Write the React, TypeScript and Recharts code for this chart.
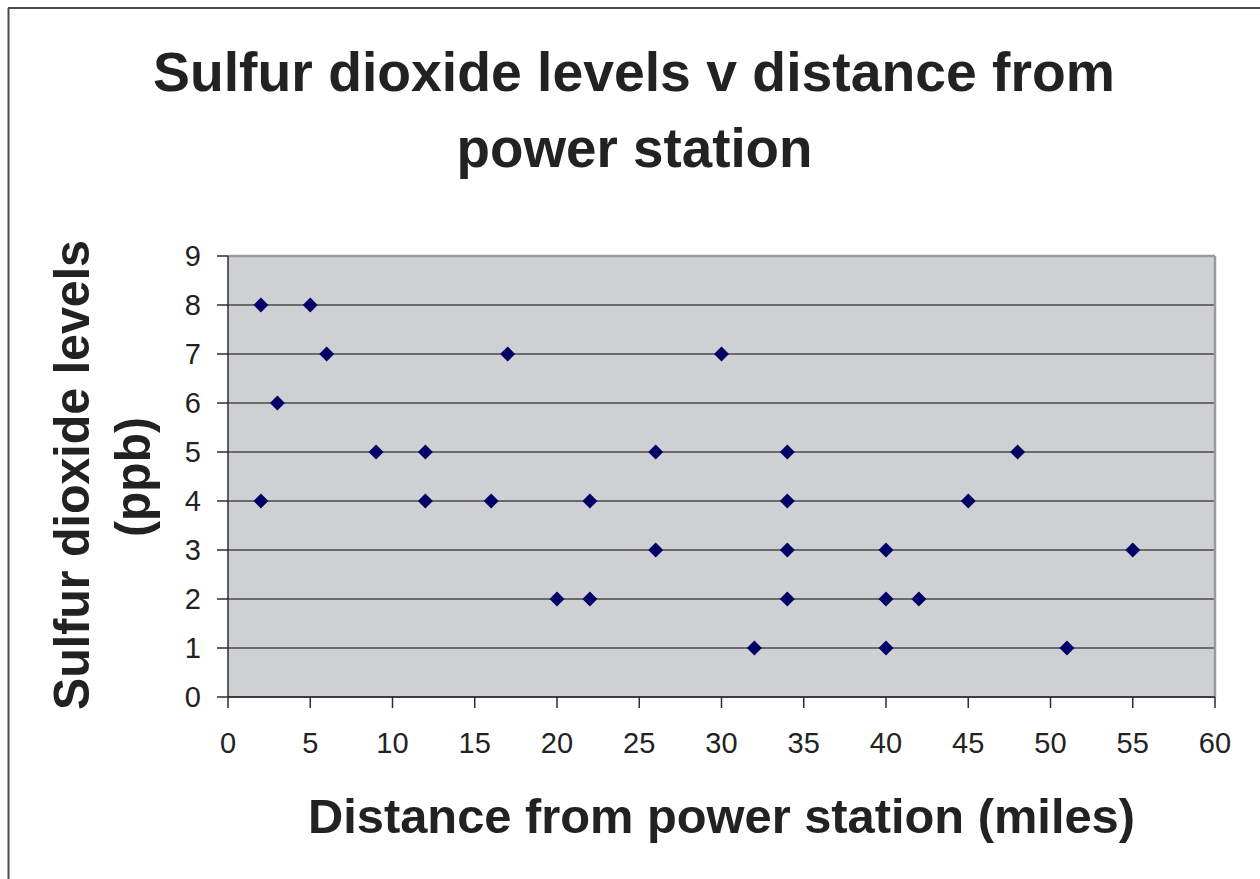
import React from 'react';
import { ScatterChart, Scatter, XAxis, YAxis, CartesianGrid, ReferenceLine } from 'recharts';

const distances = [2, 5, 6, 3, 2, 9, 12, 12, 16, 17, 20, 22, 22, 26, 26, 30, 32, 34, 34, 34, 34, 40, 40, 40, 42, 45, 48, 51, 55];
const levels = [8, 8, 7, 6, 4, 5, 5, 4, 4, 7, 2, 2, 4, 5, 3, 7, 1, 5, 4, 3, 2, 3, 2, 1, 2, 4, 5, 1, 3];
const xTicks = [0, 5, 10, 15, 20, 25, 30, 35, 40, 45, 50, 55, 60];
const yTicks = [0, 1, 2, 3, 4, 5, 6, 7, 8, 9];

const points = distances.map((d, i) => ({ x: d, y: levels[i] }));

const FONT = '"Liberation Sans", Arial, Helvetica, sans-serif';

// square-ish diamond like the Excel marker
const Diamond = (props: any) => {
  const { cx, cy } = props;
  const r = 7.5;
  return (
    <polygon
      points={`${cx},${cy - r} ${cx + r},${cy} ${cx},${cy + r} ${cx - r},${cy}`}
      fill="#000066"
    />
  );
};

export default function App() {
  const W = 1260;
  const H = 879;
  return (
    <div style={{ position: 'absolute', left: 0, top: 0, width: W, height: H, background: '#fff', overflow: 'hidden' }}>
      <div style={{ position: 'absolute', left: 0, top: 0 }}>
        <ScatterChart width={W} height={H} margin={{ top: 256, right: 45, left: 0, bottom: 0 }}>
          <CartesianGrid vertical={false} fill="#cfd0d4" fillOpacity={1} stroke="#4a4a4a" strokeWidth={1.5} />
          <XAxis
            type="number"
            dataKey="x"
            domain={[0, 60]}
            ticks={xTicks}
            interval={0}
            height={182}
            tickSize={11}
            tickMargin={24}
            axisLine={{ stroke: '#2e2e2e', strokeWidth: 1.5 }}
            tickLine={{ stroke: '#2e2e2e', strokeWidth: 1.5 }}
            tick={{ fill: '#222', fontSize: 29, fontFamily: FONT }}
          />
          <YAxis
            type="number"
            dataKey="y"
            domain={[0, 9]}
            ticks={yTicks}
            interval={0}
            width={228}
            tickSize={11}
            tickMargin={16}
            axisLine={{ stroke: '#2e2e2e', strokeWidth: 1.5 }}
            tickLine={{ stroke: '#2e2e2e', strokeWidth: 1.5 }}
            tick={{ fill: '#222', fontSize: 29, fontFamily: FONT }}
          />
          <ReferenceLine y={9} stroke="#9a9a9a" strokeWidth={2.5} />
          <ReferenceLine x={60} stroke="#9a9a9a" strokeWidth={2.5} />
          <Scatter data={points} shape={Diamond} isAnimationActive={false} />
        </ScatterChart>
      </div>
      <svg width={W} height={H} style={{ position: 'absolute', left: 0, top: 0, pointerEvents: 'none' }}>
        {/* outer chart frame */}
        <line x1={8} y1={8} x2={W} y2={8} stroke="#4a4a4a" strokeWidth={2} />
        <line x1={8.5} y1={8} x2={8.5} y2={H} stroke="#4a4a4a" strokeWidth={2} />
        <g fontFamily={FONT} fontWeight="bold" fill="#222">
          <text x={634} y={91} fontSize={56} textAnchor="middle" textLength={962} lengthAdjust="spacingAndGlyphs">
            Sulfur dioxide levels v distance from
          </text>
          <text x={634.5} y={167} fontSize={56} textAnchor="middle" textLength={356} lengthAdjust="spacingAndGlyphs">
            power station
          </text>
          <text x={721.5} y={833} fontSize={49} textAnchor="middle" textLength={827} lengthAdjust="spacingAndGlyphs">
            Distance from power station (miles)
          </text>
          <text
            transform="translate(89,475) rotate(-90)"
            fontSize={50}
            textAnchor="middle"
            textLength={470}
            lengthAdjust="spacingAndGlyphs"
          >
            Sulfur dioxide levels
          </text>
          <text
            transform="translate(150,477) rotate(-90)"
            fontSize={50}
            textAnchor="middle"
            textLength={120}
            lengthAdjust="spacingAndGlyphs"
          >
            (ppb)
          </text>
        </g>
      </svg>
    </div>
  );
}
